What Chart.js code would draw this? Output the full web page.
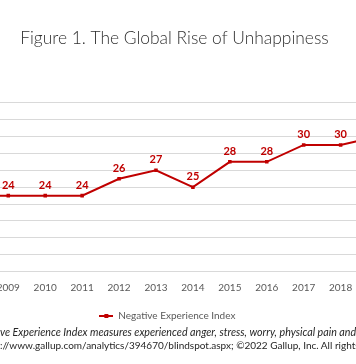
<!DOCTYPE html>
<html><head><meta charset="utf-8">
<script src="https://cdn.jsdelivr.net/npm/chart.js@4/dist/chart.umd.min.js"></script>
<style>
html,body{margin:0;padding:0;background:#fff;}
#wrap{position:relative;width:356px;height:364px;overflow:hidden;background:#fff;}
#box{position:absolute;left:-120px;top:0;width:596px;height:331px;}
.fn{position:absolute;white-space:nowrap;font-family:Lato, sans-serif;font-size:10px;color:#262626;line-height:12px;}
</style></head><body>
<div id="wrap">
<div id="box"><canvas id="c"></canvas></div>
<div class="fn" id="f1" style="font-style:italic;font-size:10.7px;top:326px"><span id="p1">Note: The Negati</span>ve Experience Index measures experienced anger, stress, worry, physical pain and sadness.</div>
<div class="fn" id="f2" style="top:339px"><span id="p2">Source: https</span>://www.gallup.com/analytics/394670/blindspot.aspx; ©2022 Gallup, Inc. All rights reserved.</div>
</div>
<script>
const titleText = 'Figure 1. The Global Rise of Unhappiness';
const seriesName = 'Negative Experience Index';
const categories = ['2008','2009','2010','2011','2012','2013','2014','2015','2016','2017','2018','2019'];
const values = [24, 24, 24, 24, 26, 27, 25, 28, 28, 30, 30, 31];
const yTicks = [15, 17, 19, 21, 23, 25, 27, 29, 31, 33, 35];

const RED = '#C00000';
const GRAY = '#595959';

// legend symbol: line with square marker
const sym = document.createElement('canvas');
sym.width = 14; sym.height = 6;
(function(){
  const g = sym.getContext('2d');
  g.fillStyle = RED;
  g.fillRect(0, 2, 14, 2);
  g.fillRect(5, 1, 4, 4);
})();

const dataLabels = {
  id: 'dataLabels',
  afterDatasetsDraw(chart) {
    const ctx = chart.ctx;
    const meta = chart.getDatasetMeta(0);
    ctx.save();
    ctx.font = 'bold 11px Lato, sans-serif';
    ctx.fillStyle = RED;
    ctx.textAlign = 'center';
    ctx.textBaseline = 'middle';
    meta.data.forEach((pt, i) => {
      ctx.fillText(String(values[i]), pt.x, pt.y - 10.5);
    });
    ctx.restore();
  }
};

function build() {
  new Chart(document.getElementById('c'), {
    type: 'line',
    data: {
      labels: categories,
      datasets: [{
        label: seriesName,
        data: values,
        borderColor: RED,
        backgroundColor: RED,
        borderWidth: 2,
        pointStyle: 'rect',
        pointRadius: 2.5,
        pointBorderWidth: 0,
        pointBackgroundColor: RED,
        tension: 0
      }]
    },
    options: {
      responsive: true,
      maintainAspectRatio: false,
      animation: false,
      layout: { padding: { left: 32.9, right: 54.2, top: 0, bottom: 0 } },
      plugins: {
        title: {
          display: true,
          fullSize: false,
          text: titleText,
          color: '#303030',
          font: { family: 'Lato', size: 17.4, weight: '300', lineHeight: 1.2 },
          padding: { top: 28.4, bottom: 53.4 }
        },
        legend: {
          display: true,
          position: 'bottom',
          fullSize: true,
          labels: {
            usePointStyle: true,
            pointStyle: sym,
            pointStyleWidth: 14,
            color: GRAY,
            font: { family: 'Lato', size: 10 },
            padding: 7.7
          }
        },
        tooltip: { enabled: false }
      },
      scales: {
        x: {
          offset: true,
          grid: { display: false, drawTicks: false },
          border: { display: true, color: '#d9d9d9', width: 1 },
          ticks: { color: GRAY, font: { family: 'Lato', size: 10 }, padding: 9.8, maxRotation: 0, autoSkip: false }
        },
        y: {
          min: yTicks[0],
          max: yTicks[yTicks.length - 1],
          afterBuildTicks(scale) { scale.ticks = yTicks.map(v => ({ value: v })); },
          afterFit(scale) { scale.width = 40; },
          grid: { color: '#d9d9d9', lineWidth: 1, drawTicks: false },
          border: { display: false },
          ticks: { color: GRAY, font: { family: 'Lato', size: 10 }, padding: 6 }
        },
        yRight: {
          position: 'right',
          min: yTicks[0],
          max: yTicks[yTicks.length - 1],
          afterFit(scale) { scale.width = 25.8; },
          grid: { display: false, drawTicks: false },
          border: { display: false },
          ticks: { display: false }
        }
      }
    },
    plugins: [dataLabels]
  });
  const p1 = document.getElementById('p1').getBoundingClientRect().width;
  const p2 = document.getElementById('p2').getBoundingClientRect().width;
  document.getElementById('f1').style.left = (-p1) + 'px';
  document.getElementById('f2').style.left = (-p2) + 'px';
}
if (document.fonts && document.fonts.load) {
  Promise.all([
    document.fonts.load('300 17.4px Lato'),
    document.fonts.load('10px Lato'),
    document.fonts.load('bold 11px Lato'),
    document.fonts.load('italic 10.7px Lato')
  ]).then(build, build);
} else build();
</script>
</body></html>
